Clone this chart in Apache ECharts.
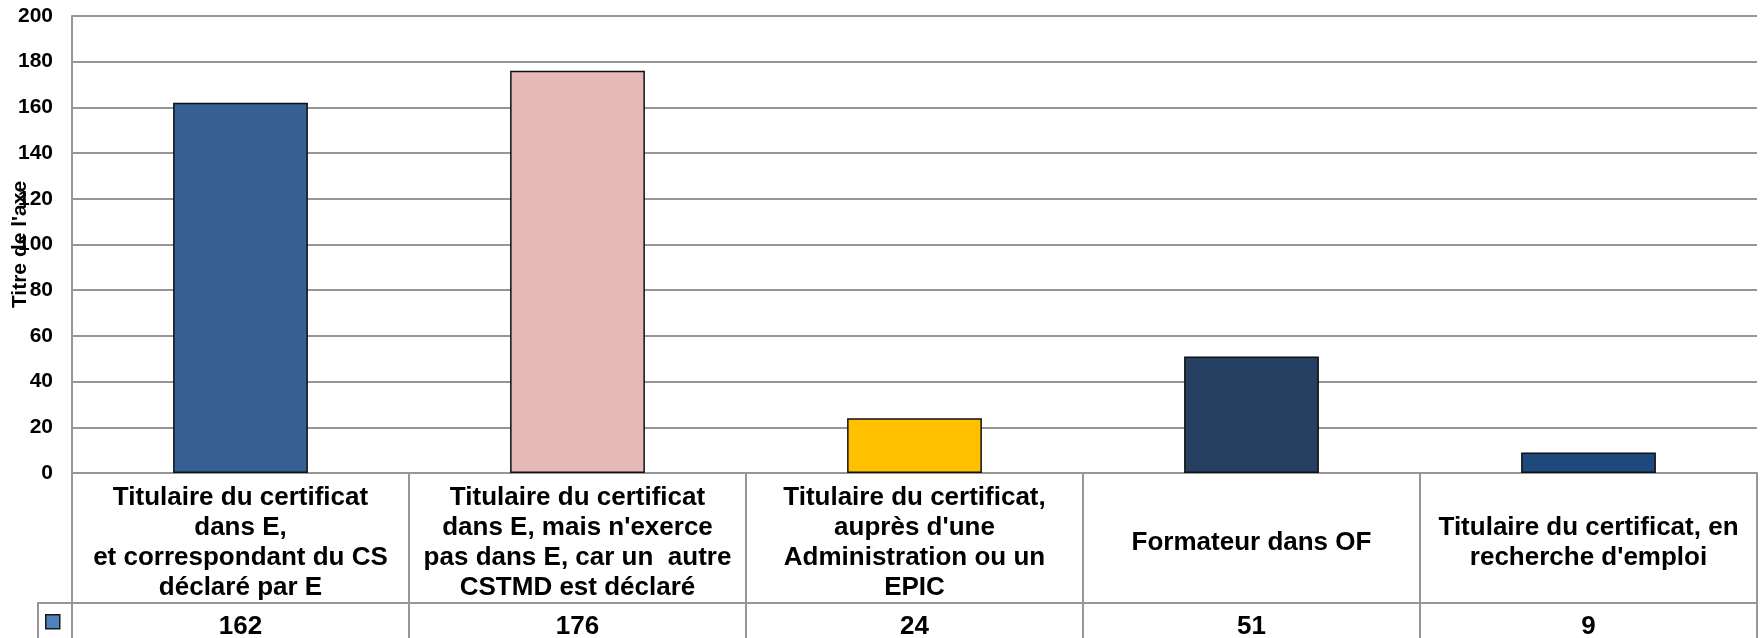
<!DOCTYPE html>
<html>
<head>
<meta charset="utf-8">
<script src="https://cdn.jsdelivr.net/npm/echarts@6/dist/echarts.min.js"></script>
<style>
  html, body { margin: 0; padding: 0; background: #fff; }
  #chart { width: 1762px; height: 638px; }
</style>
</head>
<body>
<div id="chart"></div>
<script>
// categories (line breaks as in the original table)
const categories = [
  'Titulaire du certificat\ndans E,\net correspondant du CS\ndéclaré par E',
  "Titulaire du certificat\ndans E, mais n'exerce\npas dans E, car un  autre\nCSTMD est déclaré",
  "Titulaire du certificat,\nauprès d'une\nAdministration ou un\nEPIC",
  'Formateur dans OF',
  "Titulaire du certificat, en\nrecherche d'emploi"
]
const values = [162, 176, 24, 51, 9]
const barColors = ['#376092', '#E6B9B8', '#FFC000', '#254061', '#1F497D']
const yTicks = { min: 0, max: 200, interval: 20 }
const axisName = "Titre de l'axe"
const seriesName = 'Série1'

const FONT = "'Liberation Sans', Arial, sans-serif"
const GRID_COLOR = '#969696'

const chart = echarts.init(document.getElementById('chart'))

const option = {
  backgroundColor: '#fff',
  animation: false,
  textStyle: { fontFamily: FONT },
  grid: { left: 72, right: 5, top: 16, bottom: 165, containLabel: false, outerBoundsMode: 'none' },
  legend: {
    data: [seriesName],
    left: 40,
    top: 609,
    itemWidth: 14,
    itemHeight: 14,
    itemGap: 0,
    icon: 'rect',
    formatter: () => '',
    selectedMode: false,
    itemStyle: { borderColor: '#1a1a1a', borderWidth: 1.5 }
  },
  xAxis: [
    {
      type: 'category',
      data: categories,
      axisLine: { lineStyle: { color: GRID_COLOR, width: 2 } },
      axisTick: { show: true, interval: 0, length: 165, lineStyle: { color: GRID_COLOR, width: 2 } },
      axisLabel: {
        interval: 0,
        margin: 70,
        verticalAlign: 'middle',
        align: 'center',
        fontFamily: FONT,
        fontWeight: 'bold',
        fontSize: 26,
        lineHeight: 30,
        color: '#000'
      }
    },
    {
      type: 'category',
      data: categories,
      position: 'bottom',
      offset: 130,
      axisLine: { lineStyle: { color: GRID_COLOR, width: 2 } },
      axisTick: { show: false },
      axisLabel: {
        interval: 0,
        margin: 24,
        verticalAlign: 'middle',
        fontFamily: FONT,
        fontWeight: 'bold',
        fontSize: 26,
        color: '#000',
        formatter: (v, i) => String(values[i])
      }
    }
  ],
  yAxis: {
    type: 'value',
    min: yTicks.min,
    max: yTicks.max,
    interval: yTicks.interval,
    name: axisName,
    nameLocation: 'middle',
    nameRotate: 90,
    nameGap: 41,
    nameMoveOverlap: false,
    nameTextStyle: { fontFamily: FONT, fontWeight: 'bold', fontSize: 21, color: '#000' },
    axisLine: { show: true, lineStyle: { color: GRID_COLOR, width: 2 } },
    axisTick: { show: false },
    axisLabel: { margin: 19, fontFamily: FONT, fontWeight: 'bold', fontSize: 21, color: '#000' },
    splitLine: { lineStyle: { color: GRID_COLOR, width: 2 } }
  },
  graphic: [
    {
      type: 'polyline',
      shape: { points: [[72, 603], [38, 603], [38, 638]] },
      style: { stroke: GRID_COLOR, lineWidth: 2, fill: null }
    }
  ],
  series: [
    {
      name: seriesName,
      type: 'bar',
      barWidth: '40%',
      itemStyle: { color: '#4F81BD', borderColor: '#111', borderWidth: 1.5 },
      data: values.map((v, i) => ({ value: v, itemStyle: { color: barColors[i] } }))
    }
  ]
}

chart.setOption(option)
</script>
</body>
</html>
